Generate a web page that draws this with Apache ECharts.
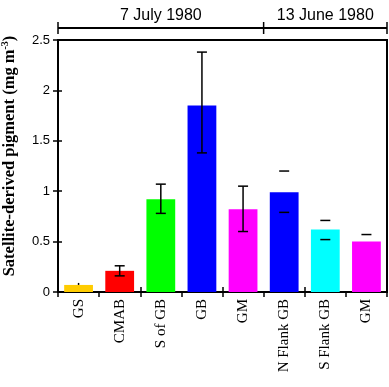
<!DOCTYPE html>
<html><head><meta charset="utf-8">
<script src="https://cdn.jsdelivr.net/npm/echarts@6/dist/echarts.min.js"></script>
<style>html,body{margin:0;padding:0;background:#fff}#c{width:389px;height:387px}</style>
</head><body><div id="c"></div>
<script>
const categories = ['GS','CMAB','S of GB','GB','GM','N Flank GB','S Flank GB','GM'];
const values = [0.07, 0.21, 0.92, 1.85, 0.82, 0.99, 0.62, 0.50];
const errLow = [0.05, 0.16, 0.78, 1.38, 0.60, 0.79, 0.52, null];
const errHigh = [0.09, 0.26, 1.07, 2.38, 1.05, 1.20, 0.71, 0.57];
const errStem = [1, 1, 1, 1, 1, 0, 0, 0];
const errCap = [0, 1, 1, 1, 1, 1, 1, 1];
const barColors = ['#FFCC00','#FF0000','#00FF00','#0000FF','#FF00FF','#0000FF','#00FFFF','#FF00FF'];
const periods = [{label:'7 July 1980', from:0, to:5}, {label:'13 June 1980', from:5, to:8}];
const yTicks = {min:0, max:2.5, interval:0.5};

const chart = echarts.init(document.getElementById('c'));
const errData = categories.map((c,i)=>[i, errLow[i], errHigh[i], errStem[i], errCap[i]]);
chart.setOption({
  animation:false,
  grid:{left:58, right:2, top:40, bottom:95, show:true, borderColor:'#000', borderWidth:2, containLabel:false, outerBoundsMode:'none'},
  xAxis:[{type:'category', data:categories, boundaryGap:true,
    axisLine:{lineStyle:{color:'#000', width:2}},
    axisTick:{show:true, length:5, lineStyle:{color:'#000', width:1.5}, alignWithLabel:false},
    axisLabel:{rotate:90, color:'#000', fontFamily:'Liberation Serif', fontSize:15, margin:7}},
   {type:'category', data:categories, position:'bottom', gridIndex:0,
    axisLine:{show:false}, axisTick:{show:true, inside:true, length:5, lineStyle:{color:'#000', width:1.5}}, axisLabel:{show:false}}],
  yAxis:[{type:'value', min:yTicks.min, max:yTicks.max, interval:yTicks.interval,
    name:'Satellite-derived pigment (mg m{sup|-3})', nameLocation:'middle', nameGap:39, nameRotate:90,
    nameTextStyle:{fontFamily:'Liberation Serif', fontWeight:'bold', fontSize:16.5, color:'#000', padding:[0,0,0,20],
      rich:{sup:{fontFamily:'Liberation Serif', fontWeight:'bold', fontSize:10, color:'#000', verticalAlign:'top', padding:[0,0,9,0]}}},
    splitLine:{show:false},
    axisLine:{show:true, lineStyle:{color:'#000', width:2}},
    axisTick:{show:true, length:5, lineStyle:{color:'#000', width:1.5}},
    axisLabel:{color:'#000', fontFamily:'Liberation Sans', fontSize:13, margin:8}},
   {type:'value', min:yTicks.min, max:yTicks.max, interval:yTicks.interval, position:'left',
    splitLine:{show:false}, axisLine:{show:false},
    axisTick:{show:true, inside:true, length:4, lineStyle:{color:'#000', width:1.5}}, axisLabel:{show:false}}],
  series:[
    {type:'bar', data:values.map((v,i)=>({value:v, itemStyle:{color:barColors[i]}})), barWidth:'70%'},
    {type:'custom', data:errData, z:10, renderItem:function(params, api){
      const i = api.value(0);
      const lo = api.value(1), hi = api.value(2), stem = api.value(3), cap = api.value(4);
      const children = [];
      const cw = 5;
      const st = {stroke:'#000', lineWidth:1.5};
      const pHi = api.coord([i, hi]);
      if (cap) children.push({type:'line', shape:{x1:pHi[0]-cw, y1:pHi[1], x2:pHi[0]+cw, y2:pHi[1]}, style:st});
      if (!isNaN(lo) && lo != null) {
        const pLo = api.coord([i, cap ? lo : api.value(1)]);
        if (cap) children.push({type:'line', shape:{x1:pLo[0]-cw, y1:pLo[1], x2:pLo[0]+cw, y2:pLo[1]}, style:st});
        if (stem) {
          const pFrom = cap ? pLo : api.coord([i, values[i]]);
          children.push({type:'line', shape:{x1:pFrom[0], y1:pFrom[1], x2:pHi[0], y2:pHi[1]}, style:st});
        }
      }
      return {type:'group', children:children};
    }}
  ]
});

// top bracket annotating date periods, positioned from the axis scale
function edgeX(k){
  const a = chart.convertToPixel({xAxisIndex:0}, 0);
  const b = chart.convertToPixel({xAxisIndex:0}, 1);
  const w = b - a;
  return a - w/2 + k*w;
}
const yLine = 28;
const g = [];
const edges = new Set();
periods.forEach(p=>{
  const x1 = edgeX(p.from), x2 = edgeX(p.to);
  g.push({type:'line', shape:{x1:x1, y1:yLine, x2:x2, y2:yLine}, style:{stroke:'#000', lineWidth:2}});
  g.push({type:'text', x:(x1+x2)/2, y:yLine-4, style:{text:p.label, fill:'#000', font:'16px "Liberation Sans"', textAlign:'center', textVerticalAlign:'bottom'}});
  edges.add(x1); edges.add(x2);
});
edges.forEach(x=>{
  g.push({type:'line', shape:{x1:x, y1:yLine-6, x2:x, y2:yLine+6}, style:{stroke:'#000', lineWidth:1.5}});
});
chart.setOption({graphic:g});
</script></body></html>
